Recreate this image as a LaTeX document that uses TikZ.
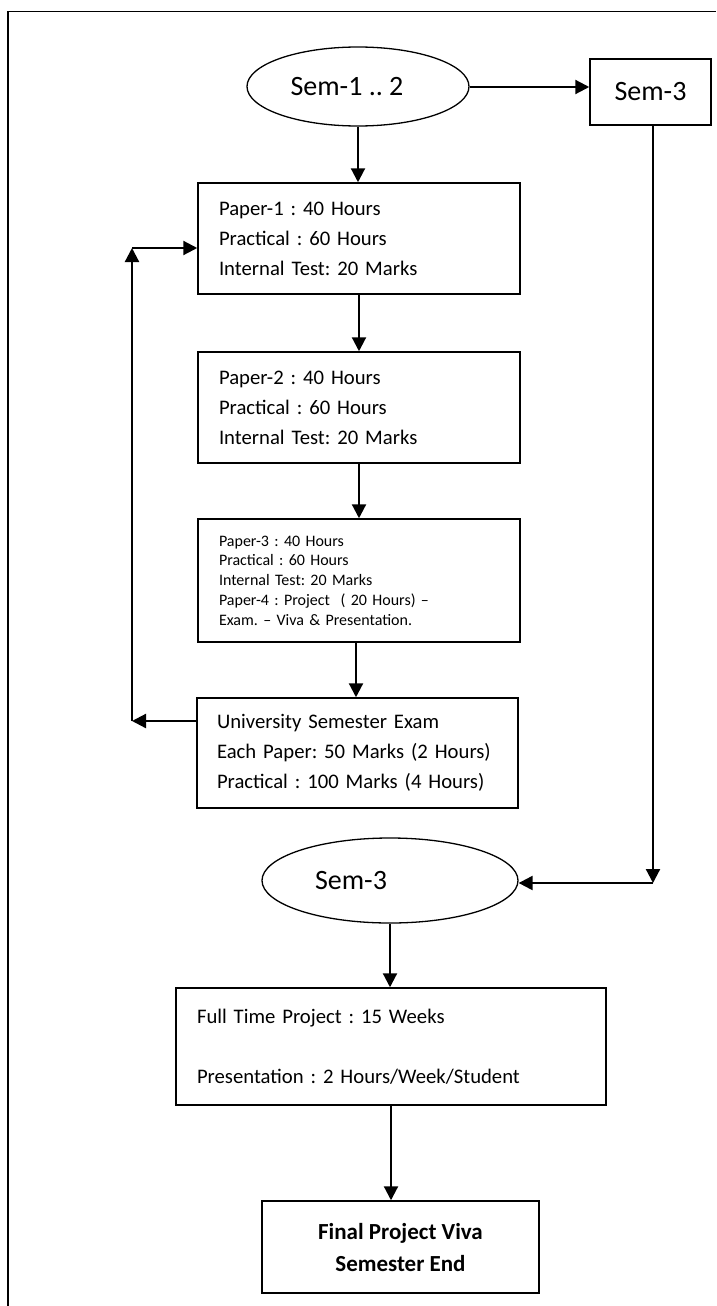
\documentclass[tikz,border=0pt]{standalone}
\usepackage{fontspec}
\setmainfont{Carlito}
\frenchspacing
\usetikzlibrary{arrows.meta,shapes.geometric}
\begin{document}
\begin{tikzpicture}[x=1pt,y=-1pt,
  box/.style={draw, line width=1.5pt, rectangle, inner sep=0pt},
  txtbox/.style={box, align=left, inner xsep=21pt, inner ysep=0pt, font=\fontsize{20.7}{30}\selectfont},
  oval/.style={draw, line width=1.3pt, ellipse, inner sep=0pt, font=\fontsize{28}{34}\selectfont},
  arr/.style={line width=2.2pt, -{Triangle[length=14pt,width=14pt]}},
  frame/.style={line width=1.4pt}
]
\useasboundingbox (0,0) rectangle (716,1306);
\draw[frame] (716,11.7) -- (7.8,11.7) -- (7.8,1306);

% nodes
\node[oval, minimum width=222pt, minimum height=79pt] (e1) at (358,86.5) {Sem-1 .. 2\hspace*{22pt}};
\node[box, minimum width=121pt, minimum height=66pt, font=\fontsize{28}{34}\selectfont] (s3) at (650.5,92) {Sem-3};

\node[txtbox, text width=280pt, minimum height=111pt] (p1) at (359,238.5)
  {Paper-1 : 40 Hours\\Practical : 60 Hours\\Internal Test: 20 Marks};
\node[txtbox, text width=280pt, minimum height=111pt] (p2) at (359,407.5)
  {Paper-2 : 40 Hours\\Practical : 60 Hours\\Internal Test: 20 Marks};
\node[txtbox, text width=280pt, minimum height=123pt, font=\fontsize{16}{19.7}\selectfont] (p3) at (359,580.5)
  {Paper-3 : 40 Hours\\Practical : 60 Hours\\Internal Test: 20 Marks\\Paper-4 : Project\ \ ( 20 Hours) –\\Exam. – Viva \& Presentation.};
\node[txtbox, inner xsep=20pt, text width=281pt, minimum height=110pt] (ue) at (357.5,753)
  {University Semester Exam\\Each Paper: 50 Marks (2 Hours)\\Practical : 100 Marks (4 Hours)};

\node[oval, minimum width=256pt, minimum height=85pt] (e2) at (390,880.5) {Sem-3\hspace*{78pt}};

\node[txtbox, text width=388pt, minimum height=117pt] (ft) at (391,1046.5)
  {Full Time Project : 15 Weeks\\[30pt]Presentation : 2 Hours/Week/Student};
\node[box, align=center, minimum width=277pt, minimum height=92pt, font=\fontsize{23}{32}\selectfont\bfseries] (fv) at (400.5,1247)
  {Final Project Viva\\Semester End};

% helper corners
\coordinate (c1) at (132,721);
\coordinate (c2) at (132,248);
\coordinate (c3) at (653,883);
\coordinate (c4) at (0,87);

% connectors
\draw[arr] (e1.east |- c4) -- (s3.west |- c4);
\draw[arr] (e1.south) -- (e1.south |- p1.north);
\draw[arr] (p1.south) -- (p1.south |- p2.north);
\draw[arr] (p2.south) -- (p2.south |- p3.north);
\draw[arr] ([xshift=-3pt]p3.south) -- ([xshift=-3pt]p3.south |- ue.north);
\draw[arr] (ue.west |- c1) -- (c1);
\draw[arr] (c1) -- (c2);
\draw[arr] (c2) -- (p1.west |- c2);
\draw[arr] (c3 |- s3.south) -- (c3);
\draw[arr] (c3) -- (e2.east |- c3);
\draw[arr] (e2.south) -- (e2.south |- ft.north);
\draw[arr] (ft.south) -- (ft.south |- fv.north);
\end{tikzpicture}
\end{document}
